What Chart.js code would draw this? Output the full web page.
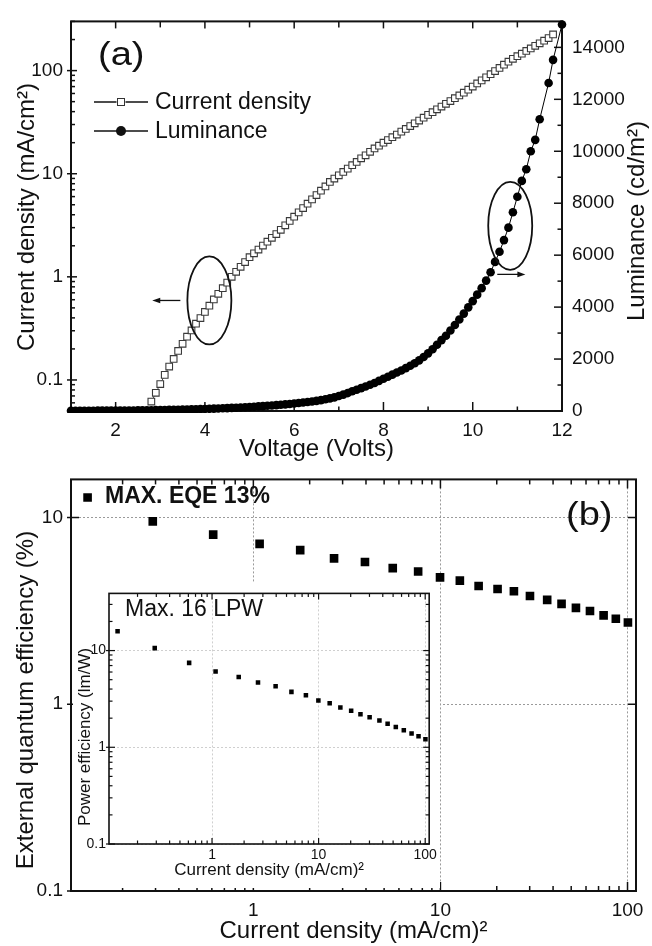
<!DOCTYPE html>
<html>
<head>
<meta charset="utf-8">
<script src="https://cdn.jsdelivr.net/npm/chart.js@4.4.1/dist/chart.umd.min.js"></script>
<style>
  body { margin: 0; background: #fff; }
  #wrap { position: relative; width: 652px; height: 946px; }
  canvas { position: absolute; }
  #cA { left: 0; top: 0; }
  #cB { left: 0; top: 460px; }
  #cI { left: 73px; top: 582px; }
</style>
</head>
<body>
<div id="wrap">
  <canvas id="cA" width="652" height="470"></canvas>
  <canvas id="cB" width="652" height="486"></canvas>
  <canvas id="cI" width="367" height="306"></canvas>
</div>
<script>
// ---- panel (a): J-V-L ----
const jVolt = [
  2.8, 2.9, 3.0, 3.1, 3.2, 3.3, 3.4, 3.5, 3.6, 3.7,
  3.8, 3.9, 4.0, 4.1, 4.2, 4.3, 4.4, 4.5, 4.6, 4.7,
  4.8, 4.9, 5.0, 5.1, 5.2, 5.3, 5.4, 5.5, 5.6, 5.7,
  5.8, 5.9, 6.0, 6.1, 6.2, 6.3, 6.4, 6.5, 6.6, 6.7,
  6.8, 6.9, 7.0, 7.1, 7.2, 7.3, 7.4, 7.5, 7.6, 7.7,
  7.8, 7.9, 8.0, 8.1, 8.2, 8.3, 8.4, 8.5, 8.6, 8.7,
  8.8, 8.9, 9.0, 9.1, 9.2, 9.3, 9.4, 9.5, 9.6, 9.7,
  9.8, 9.9, 10.0, 10.1, 10.2, 10.3, 10.4, 10.5, 10.6, 10.7,
  10.8, 10.9, 11.0, 11.1, 11.2, 11.3, 11.4, 11.5, 11.6, 11.7,
  11.8
];
const jValue = [
  0.0617, 0.075, 0.0912, 0.112, 0.135, 0.160, 0.191, 0.224, 0.263, 0.302,
  0.351, 0.398, 0.457, 0.525, 0.603, 0.684, 0.776, 0.879, 1.0, 1.12,
  1.25, 1.39, 1.55, 1.69, 1.84, 2.01, 2.19, 2.39, 2.60, 2.86,
  3.16, 3.48, 3.83, 4.22, 4.65, 5.12, 5.64, 6.21, 6.84, 7.53,
  8.32, 8.97, 9.66, 10.4, 11.2, 12.1, 13.0, 14.1, 15.1, 16.3,
  17.6, 18.7, 20.0, 21.2, 22.6, 24.0, 25.6, 27.2, 29.0, 30.8,
  32.8, 34.9, 37.2, 39.5, 42.1, 44.8, 47.6, 50.7, 54.0, 57.4,
  61.1, 65.3, 70.0, 75.0, 80.4, 86.1, 92.3, 98.9, 106, 114,
  122, 130, 138, 146, 155, 164, 174, 184, 195, 207,
  224
];
const lumVolt = [
  1.0, 1.1, 1.2, 1.3, 1.4, 1.5, 1.6, 1.7, 1.8, 1.9,
  2.0, 2.1, 2.2, 2.3, 2.4, 2.5, 2.6, 2.7, 2.8, 2.9,
  3.0, 3.1, 3.2, 3.3, 3.4, 3.5, 3.6, 3.7, 3.8, 3.9,
  4.0, 4.1, 4.2, 4.3, 4.4, 4.5, 4.6, 4.7, 4.8, 4.9,
  5.0, 5.1, 5.2, 5.3, 5.4, 5.5, 5.6, 5.7, 5.8, 5.9,
  6.0, 6.1, 6.2, 6.3, 6.4, 6.5, 6.6, 6.7, 6.8, 6.9,
  7.0, 7.1, 7.2, 7.3, 7.4, 7.5, 7.6, 7.7, 7.8, 7.9,
  8.0, 8.1, 8.2, 8.3, 8.4, 8.5, 8.6, 8.7, 8.8, 8.9,
  9.0, 9.1, 9.2, 9.3, 9.4, 9.5, 9.6, 9.7, 9.8, 9.9,
  10.0, 10.1, 10.2, 10.3, 10.4, 10.5, 10.6, 10.7, 10.8, 10.9,
  11.0, 11.1, 11.2, 11.3, 11.4, 11.5, 11.7, 11.8, 12.0
];
const lumValue = [
  10, 10, 11, 11, 12, 12, 13, 14, 15, 16,
  17, 18, 19, 20, 22, 24, 26, 28, 30, 33,
  36, 39, 42, 46, 50, 54, 58, 63, 68, 73,
  79, 85, 91, 98, 105, 112, 120, 128, 137, 146,
  156, 166, 177, 188, 200, 213, 226, 240, 255, 271,
  288, 306, 325, 345, 366, 390, 418, 450, 485, 525,
  580, 630, 690, 760, 820, 880, 945, 1010, 1080, 1160,
  1240, 1320, 1400, 1480, 1560, 1650, 1740, 1840, 1950, 2080,
  2220, 2380, 2550, 2730, 2900, 3100, 3310, 3520, 3750, 3990,
  4230, 4480, 4730, 5020, 5340, 5740, 6130, 6580, 7060, 7650,
  8250, 8860, 9310, 10000, 10440, 11230, 12630, 13520, 14880
];
const voltTicks = [2, 4, 6, 8, 10, 12];
const voltMinor = [1, 3, 5, 7, 9, 11];
const jTicks = [0.1, 1, 10, 100];
const jMinor = [0.05, 0.06, 0.07, 0.08, 0.09, 0.2, 0.3, 0.4, 0.5, 0.6, 0.7, 0.8, 0.9,
  2, 3, 4, 5, 6, 7, 8, 9, 20, 30, 40, 50, 60, 70, 80, 90, 200, 300];
const lumTicks = [0, 2000, 4000, 6000, 8000, 10000, 12000, 14000];
const lumMinor = [1000, 3000, 5000, 7000, 9000, 11000, 13000];

// ---- panel (b): efficiencies vs current density ----
const effJ = [0.13, 0.29, 0.61, 1.08, 1.78, 2.70, 3.95, 5.56, 7.60, 9.95, 12.7,
  16.0, 20.2, 24.7, 30.1, 37.2, 44.4, 53.0, 63.0, 74.5, 86.6, 100.5];
const eqe = [12.8, 9.53, 8.10, 7.23, 6.69, 6.04, 5.78, 5.36, 5.14, 4.78, 4.59,
  4.30, 4.14, 4.03, 3.80, 3.62, 3.45, 3.28, 3.16, 2.99, 2.87, 2.74];
const powerEff = [15.8, 10.6, 7.46, 6.09, 5.33, 4.68, 4.27, 3.74, 3.46, 3.05, 2.85,
  2.58, 2.39, 2.20, 2.04, 1.89, 1.75, 1.62, 1.50, 1.39, 1.30, 1.21];
const decTicks = [0.1, 1, 10, 100];
const decMinor = [0.2, 0.3, 0.4, 0.5, 0.6, 0.7, 0.8, 0.9, 2, 3, 4, 5, 6, 7, 8, 9,
  20, 30, 40, 50, 60, 70, 80, 90];

const FONT = "'Liberation Sans', Arial, sans-serif";
Chart.defaults.font.family = FONT;
Chart.defaults.color = '#111';

function fixTicks(values) {
    return s => { s.ticks = values.map(v => ({ value: v })); };
}

// box round the plot area + inward tick marks
const framePlugin = {
    id: 'frame',
    beforeDatasetsDraw(chart, args, o) {
        const ctx = chart.ctx, a = chart.chartArea;
        ctx.save();
        ctx.strokeStyle = '#111';
        ctx.lineWidth = o.width;
        ctx.strokeRect(a.left, a.top, a.right - a.left, a.bottom - a.top);
        ctx.lineWidth = o.tickWidth;
        o.marks.forEach(m => {
            const s = chart.scales[m.scale];
            m.values.forEach(v => {
                if (v < s.min || v > s.max) return;
                const p = s.getPixelForValue(v);
                const out = m.out || 0;
                ctx.beginPath();
                if (m.side === 'bottom') { ctx.moveTo(p, a.bottom + out); ctx.lineTo(p, a.bottom - m.len); }
                if (m.side === 'top') { ctx.moveTo(p, a.top - out); ctx.lineTo(p, a.top + m.len); }
                if (m.side === 'left') { ctx.moveTo(a.left - out, p); ctx.lineTo(a.left + m.len, p); }
                if (m.side === 'right') { ctx.moveTo(a.right + out, p); ctx.lineTo(a.right - m.len, p); }
                ctx.stroke();
            });
        });
        ctx.restore();
    }
};

// labels, legend keys, ellipses and arrows
const notesPlugin = {
    id: 'notes',
    afterDatasetsDraw(chart, args, o) {
        const ctx = chart.ctx;
        (o.items || []).forEach(it => {
            ctx.save();
            ctx.fillStyle = '#111';
            ctx.strokeStyle = '#111';
            if (it.type === 'text') {
                ctx.font = it.font;
                ctx.textAlign = it.align || 'left';
                ctx.textBaseline = it.baseline || 'middle';
                ctx.translate(it.x, it.y);
                if (it.rotate) ctx.rotate(it.rotate);
                if (it.stretch) ctx.scale(it.stretch, 1);
                ctx.fillText(it.text, 0, 0);
            } else if (it.type === 'ellipse') {
                const cx = chart.scales.x.getPixelForValue(it.xv);
                const cy = chart.scales[it.yScale].getPixelForValue(it.yv);
                ctx.lineWidth = 1.8;
                ctx.beginPath();
                ctx.ellipse(cx, cy, it.rx, it.ry, 0, 0, 2 * Math.PI);
                ctx.stroke();
            } else if (it.type === 'arrow') {
                const x0 = chart.scales.x.getPixelForValue(it.x0v);
                const x1 = chart.scales.x.getPixelForValue(it.x1v);
                const y = chart.scales[it.yScale].getPixelForValue(it.yv);
                const dir = Math.sign(x1 - x0);
                ctx.lineWidth = 1.3;
                ctx.beginPath(); ctx.moveTo(x0, y); ctx.lineTo(x1 - dir * 4, y); ctx.stroke();
                ctx.beginPath();
                ctx.moveTo(x1, y); ctx.lineTo(x1 - dir * 8, y - 2.8); ctx.lineTo(x1 - dir * 8, y + 2.8);
                ctx.closePath(); ctx.fill();
            } else if (it.type === 'key') {
                ctx.lineWidth = 1.3;
                ctx.beginPath(); ctx.moveTo(it.x0, it.y); ctx.lineTo(it.x1, it.y); ctx.stroke();
                if (it.marker === 'rect') {
                    ctx.fillStyle = '#fff';
                    ctx.fillRect(it.mx - 4.5, it.y - 4.5, 9, 9);
                    ctx.lineWidth = 1;
                    ctx.strokeStyle = '#333';
                    ctx.strokeRect(it.mx - 3.5, it.y - 3.5, 7, 7);
                } else {
                    ctx.beginPath(); ctx.arc(it.mx, it.y, 5, 0, 2 * Math.PI); ctx.fill();
                }
                ctx.fillStyle = '#111';
                ctx.font = it.font;
                ctx.textBaseline = 'middle';
                ctx.fillText(it.text, it.tx, it.y + 1);
            }
            ctx.restore();
        });
    }
};

const whiteBg = {
    id: 'whiteBg',
    beforeDraw(chart) {
        const ctx = chart.ctx;
        ctx.save();
        ctx.fillStyle = '#fff';
        ctx.fillRect(0, 0, chart.width, chart.height);
        ctx.restore();
    }
};

const noGrid = { display: false, drawTicks: false };
const noBorder = { display: false };

// ---------- chart (a) ----------
new Chart(document.getElementById('cA'), {
    type: 'scatter',
    data: {
        datasets: [{
            label: 'Current density',
            data: jVolt.map((v, i) => ({ x: v, y: jValue[i] })),
            yAxisID: 'y',
            showLine: true,
            borderColor: '#444',
            borderWidth: 1,
            pointStyle: 'rect',
            pointRadius: 4.7,
            pointBackgroundColor: '#fff',
            pointBorderColor: '#3a3a3a',
            pointBorderWidth: 1.1
        }, {
            label: 'Luminance',
            data: lumVolt.map((v, i) => ({ x: v, y: lumValue[i] })),
            yAxisID: 'y1',
            showLine: true,
            borderColor: '#000',
            borderWidth: 1,
            pointStyle: 'circle',
            pointRadius: 4.3,
            pointBackgroundColor: '#000',
            pointBorderColor: '#000',
            pointBorderWidth: 0,
            clip: { left: 8, top: 8, right: 8, bottom: 2 }
        }]
    },
    options: {
        responsive: false,
        animation: false,
        layout: { padding: { top: 13, left: 0, right: 0, bottom: 0 } },
        plugins: {
            legend: { display: false },
            tooltip: { enabled: false },
            frame: {
                width: 2, tickWidth: 1.5,
                marks: [
                    { scale: 'x', values: voltTicks, side: 'bottom', len: 9 },
                    { scale: 'x', values: voltMinor, side: 'bottom', len: 4.5 },
                    { scale: 'x', values: voltTicks, side: 'top', len: 7 },
                    { scale: 'x', values: voltMinor, side: 'top', len: 6 },
                    { scale: 'y', values: jTicks, side: 'left', len: 6, out: 4 },
                    { scale: 'y', values: jMinor, side: 'left', len: 4 },
                    { scale: 'y1', values: lumTicks, side: 'right', len: 8 },
                    { scale: 'y1', values: lumMinor, side: 'right', len: 4.5 }
                ]
            },
            notes: {
                items: [
                    { type: 'text', text: '(a)', x: 98, y: 65, font: '34px ' + FONT, baseline: 'alphabetic', stretch: 1.12 },
                    { type: 'key', x0: 94, x1: 148, mx: 121, y: 102, marker: 'rect', text: 'Current density', tx: 155, font: '23px ' + FONT },
                    { type: 'key', x0: 94, x1: 148, mx: 121, y: 131, marker: 'circle', text: 'Luminance', tx: 155, font: '23px ' + FONT },
                    { type: 'ellipse', xv: 4.1, yv: 0.59, yScale: 'y', rx: 22, ry: 44 },
                    { type: 'arrow', x0v: 3.45, x1v: 2.82, yv: 0.59, yScale: 'y' },
                    { type: 'ellipse', xv: 10.84, yv: 7130, yScale: 'y1', rx: 22, ry: 44 },
                    { type: 'arrow', x0v: 10.55, x1v: 11.18, yv: 5260, yScale: 'y1' },
                    { type: 'text', text: 'Current density (mA/cm²)', x: 27, y: 217, font: '24px ' + FONT, align: 'center', rotate: -Math.PI / 2 },
                    { type: 'text', text: 'Luminance (cd/m²)', x: 637, y: 221, font: '24px ' + FONT, align: 'center', rotate: -Math.PI / 2 }
                ]
            }
        },
        scales: {
            x: {
                type: 'linear', min: 1, max: 12,
                afterBuildTicks: fixTicks(voltTicks),
                afterFit: s => { s.height = 59; },
                grid: noGrid, border: noBorder,
                ticks: { font: { size: 19 }, padding: 8, maxRotation: 0, autoSkip: false },
                title: { display: true, text: 'Voltage (Volts)', font: { size: 24 }, padding: { top: 0, bottom: 6 } }
            },
            y: {
                type: 'logarithmic', position: 'left', min: 0.05, max: 300,
                afterBuildTicks: fixTicks(jTicks),
                afterFit: s => { s.width = 71; },
                grid: noGrid, border: noBorder,
                ticks: { font: { size: 19 }, padding: 8, autoSkip: false, callback: v => String(v) }
            },
            y1: {
                type: 'linear', position: 'right', min: 0, max: 15000,
                afterBuildTicks: fixTicks(lumTicks),
                afterFit: s => { s.width = 90; },
                grid: noGrid, border: noBorder,
                ticks: { font: { size: 19 }, padding: 10, autoSkip: false, callback: v => String(v) }
            }
        }
    },
    plugins: [framePlugin, notesPlugin]
});

// ---------- chart (b) ----------
const dotted = { display: false, dash: [2, 2] };

new Chart(document.getElementById('cB'), {
    type: 'scatter',
    data: {
        datasets: [{
            label: 'EQE',
            data: effJ.map((j, i) => ({ x: j, y: eqe[i] })),
            pointStyle: 'rect',
            pointRadius: 6.1,
            pointBackgroundColor: '#000',
            pointBorderColor: '#000',
            pointBorderWidth: 0
        }]
    },
    options: {
        responsive: false,
        animation: false,
        layout: { padding: { top: 14, left: 0, right: 16, bottom: 0 } },
        plugins: {
            legend: { display: false },
            tooltip: { enabled: false },
            frame: {
                width: 2, tickWidth: 1.5,
                marks: [
                    { scale: 'x', values: decTicks, side: 'bottom', len: 9 },
                    { scale: 'x', values: decMinor, side: 'bottom', len: 5 },
                    { scale: 'x', values: decTicks, side: 'top', len: 9 },
                    { scale: 'x', values: decMinor, side: 'top', len: 5 },
                    { scale: 'y', values: decTicks, side: 'left', len: 8, out: 4 },
                    { scale: 'y', values: decTicks, side: 'right', len: 8 }
                ]
            },
            notes: {
                items: [
                    { type: 'text', text: 'MAX. EQE 13%', x: 105, y: 37, font: 'bold 23px ' + FONT },
                    { type: 'text', text: '(b)', x: 566, y: 65, font: '34px ' + FONT, baseline: 'alphabetic', stretch: 1.12 },
                    { type: 'text', text: 'External quantum efficiency (%)', x: 26, y: 240, font: '24px ' + FONT, align: 'center', rotate: -Math.PI / 2 }
                ]
            }
        },
        scales: {
            x: {
                type: 'logarithmic', min: 0.106, max: 111,
                afterBuildTicks: fixTicks([1, 10, 100]),
                afterFit: s => { s.height = 55; },
                grid: { color: '#9a9a9a', lineWidth: 1, drawTicks: false },
                border: dotted,
                ticks: { font: { size: 19 }, padding: 8, maxRotation: 0, autoSkip: false, callback: v => String(v) },
                title: { display: true, text: 'Current density (mA/cm)²', font: { size: 24 }, padding: { top: 0, bottom: 0 } }
            },
            y: {
                type: 'logarithmic', position: 'left', min: 0.1, max: 16,
                afterBuildTicks: fixTicks([0.1, 1, 10]),
                afterFit: s => { s.width = 71; },
                grid: { color: '#9a9a9a', lineWidth: 1, drawTicks: false },
                border: dotted,
                ticks: { font: { size: 19 }, padding: 8, autoSkip: false, callback: v => String(v) }
            }
        }
    },
    plugins: [framePlugin, notesPlugin]
});

// ---------- inset: power efficiency ----------
new Chart(document.getElementById('cI'), {
    type: 'scatter',
    data: {
        datasets: [{
            label: 'Power efficiency',
            data: effJ.map((j, i) => ({ x: j, y: powerEff[i] })),
            pointStyle: 'rect',
            pointRadius: 3.2,
            pointBackgroundColor: '#000',
            pointBorderColor: '#000',
            pointBorderWidth: 0
        }]
    },
    options: {
        responsive: false,
        animation: false,
        layout: { padding: { top: 6, left: 0, right: 10, bottom: 0 } },
        plugins: {
            legend: { display: false },
            tooltip: { enabled: false },
            frame: {
                width: 1.6, tickWidth: 1.2,
                marks: [
                    { scale: 'x', values: decTicks, side: 'bottom', len: 6 },
                    { scale: 'x', values: decMinor, side: 'bottom', len: 3.5 },
                    { scale: 'x', values: decTicks, side: 'top', len: 6 },
                    { scale: 'x', values: decMinor, side: 'top', len: 3.5 },
                    { scale: 'y', values: decTicks, side: 'left', len: 6, out: 3 },
                    { scale: 'y', values: decMinor, side: 'left', len: 3.5 },
                    { scale: 'y', values: decTicks, side: 'right', len: 6 },
                    { scale: 'y', values: decMinor, side: 'right', len: 3.5 }
                ]
            },
            notes: {
                items: [
                    { type: 'text', text: 'Max. 16 LPW', x: 52, y: 28, font: '23px ' + FONT },
                    { type: 'text', text: 'Power efficiency (lm/W)', x: 12, y: 155, font: '17px ' + FONT, align: 'center', rotate: -Math.PI / 2 }
                ]
            }
        },
        scales: {
            x: {
                type: 'logarithmic', min: 0.108, max: 109,
                afterBuildTicks: fixTicks([1, 10, 100]),
                afterFit: s => { s.height = 44; },
                grid: { color: '#cfcfcf', lineWidth: 1, drawTicks: false },
                border: dotted,
                ticks: { font: { size: 14 }, padding: 3, maxRotation: 0, autoSkip: false, callback: v => String(v) },
                title: { display: true, text: 'Current density (mA/cm)²', font: { size: 17 }, padding: { top: 0, bottom: 7 } }
            },
            y: {
                type: 'logarithmic', position: 'left', min: 0.1, max: 39,
                afterBuildTicks: fixTicks([0.1, 1, 10]),
                afterFit: s => { s.width = 36; },
                grid: { color: '#cfcfcf', lineWidth: 1, drawTicks: false },
                border: dotted,
                ticks: { font: { size: 14 }, padding: 3, autoSkip: false, callback: v => String(v) }
            }
        }
    },
    plugins: [whiteBg, framePlugin, notesPlugin]
});
</script>
</body>
</html>
